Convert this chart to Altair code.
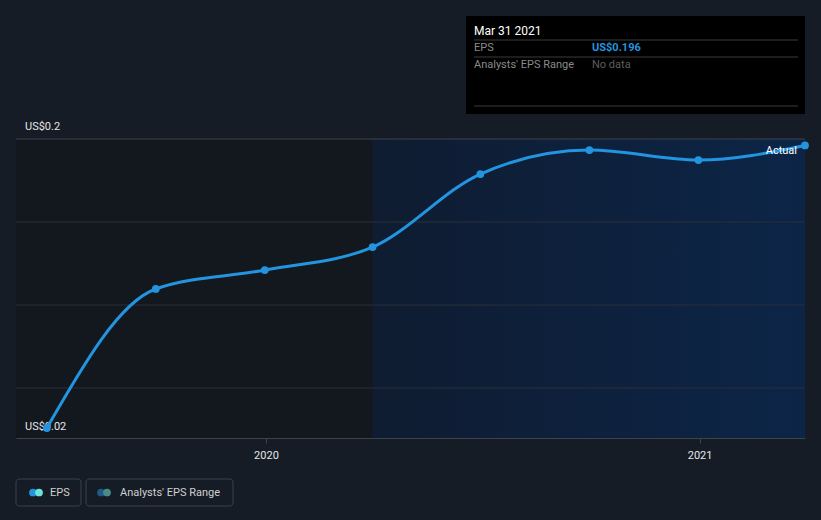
import altair as alt
import pandas as pd

# ---- data ----
dates = ["2019-06-30", "2019-09-30", "2019-12-31", "2020-03-31",
         "2020-06-30", "2020-09-30", "2020-12-31", "2021-03-31"]
eps = [0.020, 0.1066, 0.1184, 0.1327, 0.1782, 0.1931, 0.1869, 0.196]
grid_vals = [0.0449, 0.0966, 0.1483]
top_val = 0.2
x_start = "2019-06-04"
x_split = "2020-03-31"
x_end = "2021-03-31"
tick_dates = ["2020-01-01", "2021-01-01"]

FONT = "Roboto"
W, H = 789, 299

df = pd.DataFrame({"date": pd.to_datetime(dates), "eps": eps})
xs = alt.Scale(domain=[x_start, x_end], type="time")
ys = alt.Scale(domain=[0.0138, 0.2], nice=False, zero=False)
XAX = alt.Axis(
    values=[pd.Timestamp(d).isoformat() for d in tick_dates],
    format="%Y", title=None, grid=False, domainColor="#3d434c",
    tickColor="#3d434c", tickSize=5, labelColor="#e6e6e6",
    labelFont=FONT, labelFontSize=11, labelPadding=6)

one = pd.DataFrame({"a": [0]})

past = alt.Chart(pd.DataFrame({"s": [x_start], "e": [x_split]})).mark_rect(
    color="#13171e").encode(
    x=alt.X("s:T", scale=xs, axis=XAX), x2="e:T",
    y=alt.value(0), y2=alt.value(H))

future = alt.Chart(pd.DataFrame({"s": [x_split], "e": [x_end]})).mark_rect(
    color=alt.Gradient(gradient="linear", x1=0, x2=1, y1=0, y2=0,
                       stops=[alt.GradientStop(offset=0, color="#0f1c31"),
                              alt.GradientStop(offset=1, color="#0c2547")])).encode(
    x=alt.X("s:T", scale=xs, axis=XAX), x2="e:T",
    y=alt.value(0), y2=alt.value(H))

grid = alt.Chart(pd.DataFrame({"v": grid_vals})).mark_rule(
    color="#2a303a", strokeWidth=1).encode(
    y=alt.Y("v:Q", scale=ys, axis=None), x=alt.value(0), x2=alt.value(W))

topline = alt.Chart(pd.DataFrame({"v": [top_val]})).mark_rule(
    color="#3c424c", strokeWidth=1).encode(
    y=alt.Y("v:Q", scale=ys, axis=None), x=alt.value(0), x2=alt.value(W))

ylab_top = alt.Chart(pd.DataFrame({"l": ["US$0.2"], "v": [0.2]})).mark_text(
    align="left", baseline="middle", color="#e6e6e6", font=FONT, fontSize=11, dy=-12).encode(
    x=alt.value(9), y=alt.Y("v:Q", scale=ys, axis=None), text="l:N")
ylab_bot = alt.Chart(pd.DataFrame({"l": ["US$0.02"], "v": [0.02]})).mark_text(
    align="left", baseline="middle", color="#e6e6e6", font=FONT, fontSize=11, dy=-1).encode(
    x=alt.value(9), y=alt.Y("v:Q", scale=ys, axis=None), text="l:N")

line = alt.Chart(df).mark_line(
    color="#2394df", strokeWidth=3, interpolate="monotone").encode(
    x=alt.X("date:T", scale=xs, axis=XAX),
    y=alt.Y("eps:Q", scale=ys, axis=None))

pts = alt.Chart(df).mark_circle(color="#2394df", size=60, opacity=1).encode(
    x=alt.X("date:T", scale=xs, axis=XAX),
    y=alt.Y("eps:Q", scale=ys, axis=None))

actual = alt.Chart(pd.DataFrame({"t": ["Actual"]})).mark_text(
    align="right", baseline="middle", color="#ffffff", font=FONT, fontSize=11).encode(
    x=alt.value(781), y=alt.value(12), text="t:N")

# tooltip box (relative to plot origin at 16,139)
tip_bg = alt.Chart(one).mark_rect(color="#000000").encode(
    x=alt.value(450), x2=alt.value(789), y=alt.value(-123), y2=alt.value(-25))
tip_lines = alt.Chart(pd.DataFrame({"yy": [-99, -82, -33]})).mark_rule(
    color="#3a3a3a").encode(x=alt.value(458), x2=alt.value(782), y=alt.Y("yy:Q", scale=None))
tip_title = alt.Chart(pd.DataFrame({"t": ["Mar 31 2021"]})).mark_text(
    align="left", baseline="middle", color="#ffffff", font=FONT, fontSize=12).encode(
    x=alt.value(458), y=alt.value(-108), text="t:N")
tip_k = alt.Chart(pd.DataFrame({"t": ["EPS", "Analysts' EPS Range"], "yy": [-91, -74]})).mark_text(
    align="left", baseline="middle", color="#8a8a8a", font=FONT, fontSize=11).encode(
    x=alt.value(458), y=alt.Y("yy:Q", scale=None), text="t:N")
tip_v1 = alt.Chart(pd.DataFrame({"t": ["US$0.196"]})).mark_text(
    align="left", baseline="middle", color="#2394df", font=FONT, fontSize=11,
    fontWeight="bold").encode(x=alt.value(576), y=alt.value(-91), text="t:N")
tip_v2 = alt.Chart(pd.DataFrame({"t": ["No data"]})).mark_text(
    align="left", baseline="middle", color="#5e5e5e", font=FONT, fontSize=11).encode(
    x=alt.value(576), y=alt.value(-74), text="t:N")

# legend
leg_box = alt.Chart(pd.DataFrame({"x1": [0, 70], "x2": [65, 217]})).mark_rect(
    fill="#161c25", stroke="#3a404a", strokeWidth=1, cornerRadius=3).encode(
    x=alt.X("x1:Q", scale=None), x2="x2:Q", y=alt.value(340), y2=alt.value(367))
leg_dots = alt.Chart(pd.DataFrame({
    "xx": [17, 23, 85, 91],
    "c": ["#2394df", "#6de3d9", "#1f5a86", "#4b8a88"]})).mark_circle(size=60, opacity=1).encode(
    x=alt.X("xx:Q", scale=None), y=alt.value(353.5),
    color=alt.Color("c:N", scale=None))
leg_text = alt.Chart(pd.DataFrame({"t": ["EPS", "Analysts' EPS Range"], "xx": [34, 104]})).mark_text(
    align="left", baseline="middle", color="#d0d0d0", font=FONT, fontSize=11).encode(
    x=alt.X("xx:Q", scale=None), y=alt.value(353.5), text="t:N")

chart = alt.layer(
    past, future, grid, topline, ylab_top, ylab_bot, line, pts, actual,
    tip_bg, tip_lines, tip_title, tip_k, tip_v1, tip_v2,
    leg_box, leg_dots, leg_text
).properties(
    width=W, height=H,
    padding={"left": 16, "top": 139, "right": 16, "bottom": 82},
    autosize=alt.AutoSizeParams(type="none"),
    background="#161c25"
).configure_view(stroke=None)

chart.save("out.html", embed_options={"renderer": "svg", "actions": False})
